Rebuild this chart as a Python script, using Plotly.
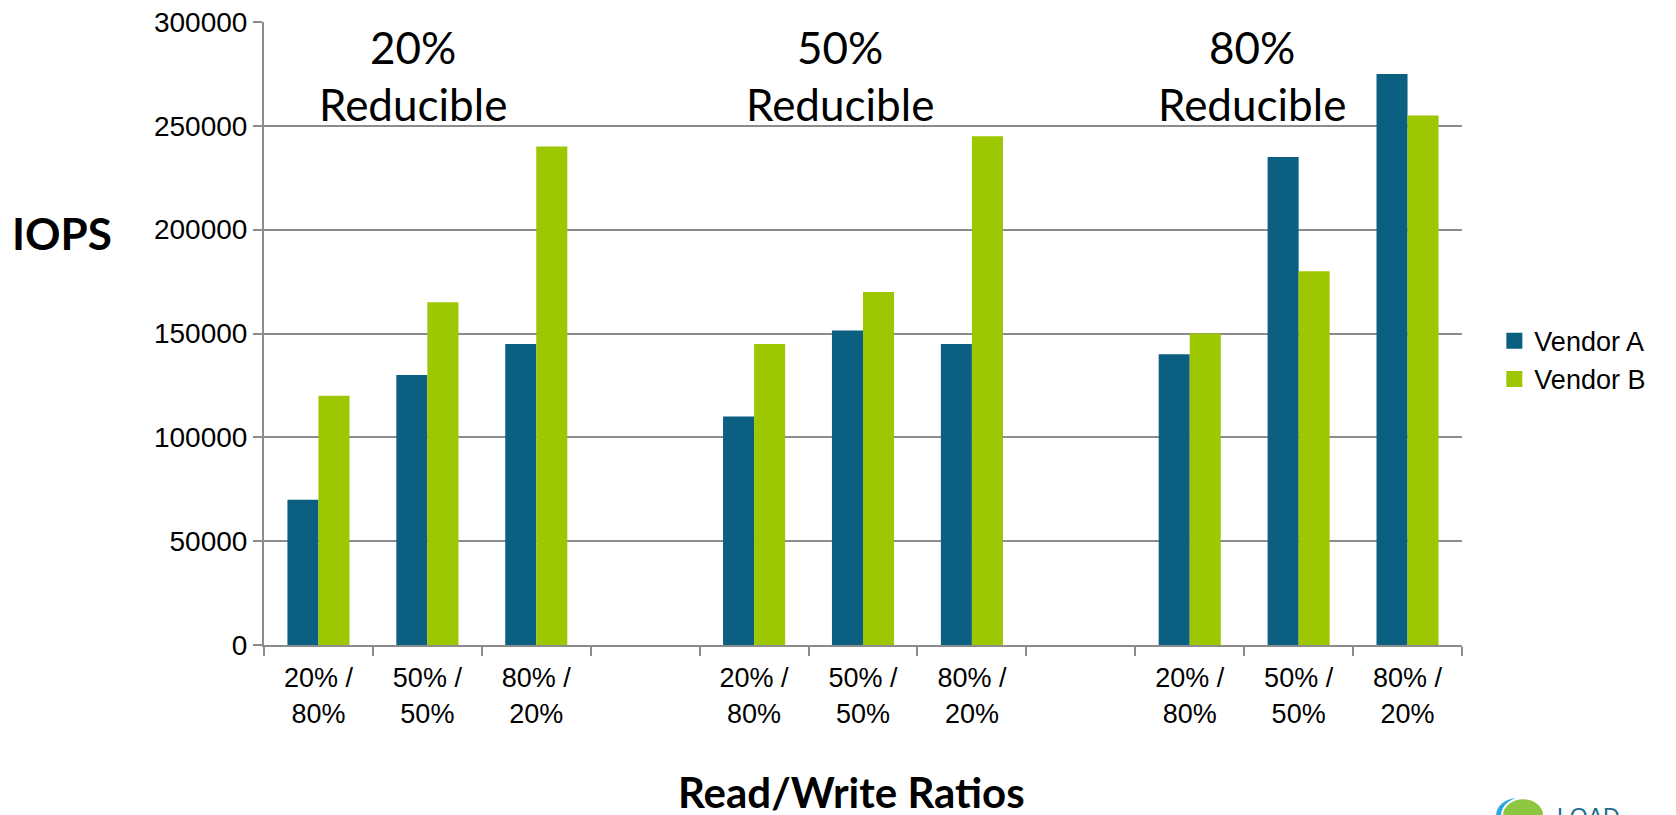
import plotly.graph_objects as go

# Read/write mixes tested within each data-reduction level
ratio_labels = ["20% /<br>80%", "50% /<br>50%", "80% /<br>20%"]
reduction_levels = ["20%", "50%", "80%"]

# IOPS per reduction level, in ratio order
vendor_a_20 = [70000, 130000, 145000]
vendor_a_50 = [110000, 151500, 145000]
vendor_a_80 = [140000, 235000, 275000]

vendor_b_20 = [120000, 165000, 240000]
vendor_b_50 = [145000, 170000, 245000]
vendor_b_80 = [150000, 180000, 255000]

y_ticks = [0, 50000, 100000, 150000, 200000, 250000, 300000]

COLOR_A = "#0B5F80"
COLOR_B = "#9DC701"
GRID = "#8C8C8C"
ARIAL = "Arial, Liberation Sans, sans-serif"
TITLE_FAMILY = "Lato, Open Sans, sans-serif"

# Build category slots: three ratios per level, an empty slot between levels
slots, slot_text, a_vals, b_vals = [], [], [], []
a_sets = [vendor_a_20, vendor_a_50, vendor_a_80]
b_sets = [vendor_b_20, vendor_b_50, vendor_b_80]
for gi, level in enumerate(reduction_levels):
    for ri, label in enumerate(ratio_labels):
        slots.append(f"{level}|{ri}")
        slot_text.append(label)
        a_vals.append(a_sets[gi][ri])
        b_vals.append(b_sets[gi][ri])
    if gi < len(reduction_levels) - 1:
        slots.append(f"gap{gi}")
        slot_text.append("")
        a_vals.append(None)
        b_vals.append(None)

fig = go.Figure()
fig.add_trace(go.Bar(x=slots, y=a_vals, name="Vendor A", marker=dict(color=COLOR_A, line=dict(width=0)),
                     showlegend=False))
fig.add_trace(go.Bar(x=slots, y=b_vals, name="Vendor B", marker=dict(color=COLOR_B, line=dict(width=0)),
                     showlegend=False))

# Legend entries with larger square swatches
for name, color in [("Vendor A", COLOR_A), ("Vendor B", COLOR_B)]:
    fig.add_trace(go.Scatter(x=[None], y=[None], mode="markers", name=name,
                             marker=dict(symbol="square", size=17, color=color)))

# Reduction-level headings above each group
heading_x = [0.865, 4.79, 8.57]
for level, hx in zip(reduction_levels, heading_x):
    fig.add_annotation(x=hx, y=300000, xref="x", yref="y", yanchor="top", yshift=3,
                       text=f"{level}<br>Reducible", showarrow=False,
                       font=dict(family=TITLE_FAMILY, size=44, color="#000000"))

# Axis titles
fig.add_annotation(x=-0.212, y=0.661, xref="paper", yref="paper", xanchor="left", yanchor="middle",
                   text="<b>IOPS</b>", showarrow=False,
                   font=dict(family=TITLE_FAMILY, size=44, color="#000000"))
fig.add_annotation(x=0.49, y=-0.236, xref="paper", yref="paper", xanchor="center", yanchor="middle",
                   text="<b>Read/Write Ratios</b>", showarrow=False,
                   font=dict(family=TITLE_FAMILY, size=42, color="#000000"))

# Corner logo
fig.add_shape(type="circle", xref="paper", yref="paper",
              x0=1.0285, x1=1.0635, y0=-0.30, y1=-0.246, fillcolor="#29A8DF", line=dict(width=0))
fig.add_shape(type="circle", xref="paper", yref="paper",
              x0=1.0335, x1=1.0685, y0=-0.30, y1=-0.246, fillcolor="#8DC63F",
              line=dict(width=2, color="#FFFFFF"))
fig.add_annotation(x=1.0775, y=-0.252, xref="paper", yref="paper", xanchor="left", yanchor="top",
                   text="LOAD", showarrow=False,
                   font=dict(family=ARIAL, size=23, color="#1B6E8E"))

fig.update_layout(
    width=1676, height=815,
    margin=dict(l=264, r=214, t=22, b=170),
    paper_bgcolor="#FFFFFF", plot_bgcolor="#FFFFFF",
    barmode="group", bargap=0.43, bargroupgap=0,
    legend=dict(x=1.027, y=0.457, xanchor="left", yanchor="middle",
                font=dict(family=ARIAL, size=27, color="#000000"),
                itemsizing="trace", tracegroupgap=0, bgcolor="rgba(0,0,0,0)"),
    showlegend=True,
)

fig.update_xaxes(
    type="category", categoryorder="array", categoryarray=slots,
    tickmode="array", tickvals=slots, ticktext=slot_text, tickson="boundaries",
    range=[-0.5, len(slots) - 0.5], automargin=False,
    showline=True, linecolor=GRID, linewidth=2,
    ticks="outside", ticklen=9, tickwidth=2, tickcolor=GRID, ticklabelstandoff=8,
    showgrid=False, tickfont=dict(family=ARIAL, size=27, color="#000000"), tickangle=0,
)
fig.update_yaxes(
    range=[0, 300000], tickmode="array", tickvals=y_ticks,
    ticktext=[str(v) for v in y_ticks], automargin=False,
    showline=True, linecolor=GRID, linewidth=2,
    ticks="outside", ticklen=9, tickwidth=2, tickcolor=GRID,
    showgrid=True, gridcolor=GRID, gridwidth=2, zeroline=False,
    tickfont=dict(family=ARIAL, size=28, color="#000000"),
)

fig.write_html("out.html")
